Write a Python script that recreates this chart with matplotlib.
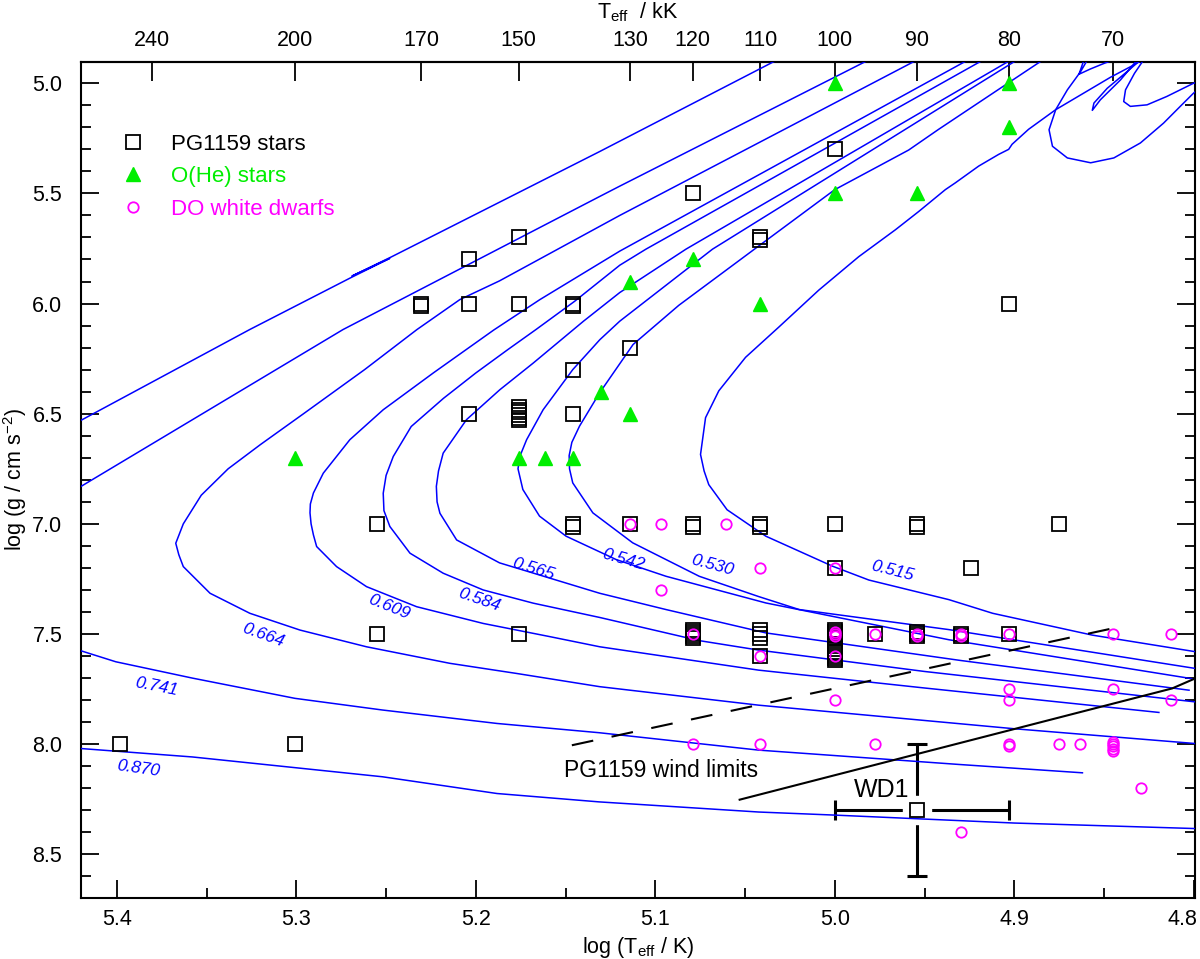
import numpy as np
import matplotlib
matplotlib.use('Agg')
import matplotlib.pyplot as plt
import matplotlib.transforms as mtransforms
from matplotlib.lines import Line2D
from matplotlib.ticker import MultipleLocator, NullLocator, FixedLocator, FuncFormatter

plt.rcParams['font.family'] = ['Liberation Sans', 'DejaVu Sans']
plt.rcParams['mathtext.fontset'] = 'custom'
plt.rcParams['mathtext.rm'] = 'Liberation Sans'
plt.rcParams['mathtext.it'] = 'Liberation Sans:italic'

# ---------------- data ----------------
# PG1159 stars (log Teff, log g)
pg_logT = [5.398, 5.301, 5.2553, 5.2553, 5.2304, 5.2304, 5.204, 5.204, 5.204,
           5.1761, 5.1761, 5.1761, 5.1761, 5.1761, 5.1761, 5.1761, 5.1761, 5.1761,
           5.1461, 5.1461, 5.1461, 5.1461, 5.1461, 5.1461,
           5.1139, 5.1139,
           5.0792, 5.0792, 5.0792, 5.0792, 5.0792, 5.0792, 5.0792, 5.0792,
           5.0414, 5.0414, 5.0414, 5.0414, 5.0414, 5.0414, 5.0414, 5.0414,
           5.0, 5.0, 5.0, 5.0, 5.0, 5.0, 5.0, 5.0, 5.0, 5.0, 5.0, 5.0, 5.0, 5.0,
           4.9777, 4.9542, 4.9542, 4.9542, 4.9542, 4.9542,
           4.9294, 4.9294, 4.9243, 4.9031, 4.9031, 4.8751]
pg_logg = [8.0, 8.0, 7.0, 7.5, 6.0, 6.012, 5.8, 6.0, 6.5,
           5.7, 6.0, 6.47, 6.482, 6.494, 6.506, 6.518, 6.53, 7.5,
           6.0, 6.012, 6.3, 6.5, 7.0, 7.012,
           6.2, 7.0,
           5.5, 7.0, 7.012, 7.48, 7.49, 7.5, 7.51, 7.52,
           5.7, 5.712, 7.0, 7.012, 7.48, 7.5, 7.52, 7.6,
           5.3, 7.0, 7.2, 7.48, 7.49, 7.5, 7.51, 7.52, 7.57, 7.58, 7.59, 7.60, 7.61, 7.62,
           7.5, 7.0, 7.012, 7.49, 7.5, 7.51,
           7.5, 7.51, 7.2, 6.0, 7.5, 7.0]

# O(He) stars
ohe_logT = [5.0, 4.9031, 4.9031, 5.0, 4.9542, 5.0792, 5.1139, 5.0414, 5.1303,
            5.1139, 5.301, 5.1761, 5.1614, 5.1461]
ohe_logg = [5.0, 5.0, 5.2, 5.5, 5.5, 5.8, 5.9, 6.0, 6.4, 6.5, 6.7, 6.7, 6.7, 6.7]

# DO white dwarfs
do_logT = [5.1139, 5.0969, 5.0607, 5.0414, 5.0, 5.0969, 5.0792, 5.0, 5.0, 5.0,
           4.9777, 4.9542, 4.9542, 4.9294, 4.9294, 4.9031, 4.8451, 4.8129,
           5.0414, 5.0, 5.0, 4.9031, 4.9031, 4.8451, 4.8129,
           5.0792, 5.0414, 4.9777, 4.9031, 4.9031, 4.8751, 4.8633,
           4.8451, 4.8451, 4.8451, 4.8451, 4.8451, 4.8293, 4.9294]
do_logg = [7.0, 7.0, 7.0, 7.2, 7.2, 7.3, 7.5, 7.49, 7.5, 7.51,
           7.5, 7.5, 7.51, 7.5, 7.51, 7.5, 7.5, 7.5,
           7.6, 7.6, 7.8, 7.75, 7.8, 7.75, 7.8,
           8.0, 8.0, 8.0, 8.0, 8.01, 8.0, 8.0,
           7.99, 8.0, 8.01, 8.02, 8.03, 8.2, 8.4]

# WD1 with error bars
wd1_logT = 4.9542
wd1_logg = 8.3
wd1_xerr = [[0.0511], [0.0458]]
wd1_yerr = 0.3

# Evolutionary tracks (log Teff, log g)
t0870_logT = [5.021, 5.034, 5.131, 5.2475, 5.2690, 5.2480, 5.2700, 5.326, 5.42, 5.47, 5.56,
              5.47, 5.4197, 5.358, 5.252, 5.1882, 5.1313, 5.0424, 5.0, 4.9, 4.7993, 4.79]
t0870_logg = [4.85, 4.902, 5.31, 5.790, 5.875, 5.795, 5.884, 6.118, 6.53, 6.75, 7.4,
              7.95, 8.02, 8.058, 8.148, 8.224, 8.262, 8.308, 8.322, 8.358, 8.383, 8.385]

t0741_logT = [4.970, 4.983, 5.1198, 5.131, 5.274, 5.42, 5.46, 5.48, 5.45, 5.4197, 5.4006,
              5.358, 5.3008, 5.252, 5.1882, 5.1313, 5.0424, 4.931, 4.862]
t0741_logg = [4.85, 4.902, 5.467, 5.514, 6.118, 6.83, 7.05, 7.3, 7.52, 7.577, 7.626,
              7.70, 7.792, 7.845, 7.906, 7.948, 8.027, 8.092, 8.13]

t0664_logT = [4.944, 4.956, 5.1198, 5.1543, 5.1868, 5.2089, 5.2328, 5.262, 5.296, 5.32,
              5.338, 5.353, 5.363, 5.3672, 5.3655, 5.363, 5.3481, 5.3259, 5.298, 5.2609,
              5.2145, 5.1773, 5.131, 5.0424, 4.9, 4.7993, 4.79]
t0664_logg = [4.85, 4.902, 5.60, 5.753, 5.897, 5.982, 6.118, 6.30, 6.5, 6.64,
              6.75, 6.87, 7.0, 7.088, 7.14, 7.194, 7.315, 7.406, 7.482, 7.558,
              7.633, 7.679, 7.739, 7.823, 7.93, 7.997, 8.0]

t0609_logT = [4.915, 4.9275, 5.1198, 5.1643, 5.19, 5.2237, 5.2516, 5.2702, 5.285, 5.2905,
              5.2922, 5.2924, 5.2918, 5.2905, 5.2887, 5.2776, 5.2609, 5.233, 5.1959,
              5.1587, 5.1309, 5.0424, 4.95, 4.8194]
t0609_logg = [4.85, 4.902, 5.762, 5.982, 6.12, 6.315, 6.482, 6.618, 6.77, 6.86,
              6.91, 6.95, 7.0, 7.05, 7.103, 7.194, 7.285, 7.376, 7.452,
              7.512, 7.558, 7.664, 7.745, 7.856]

t0584_logT = [4.906, 4.919, 5.1052, 5.1198, 5.145, 5.1665, 5.182, 5.2, 5.218, 5.236,
              5.246, 5.2500, 5.2516, 5.2512, 5.2479, 5.2367, 5.2182, 5.1959, 5.168,
              5.1309, 5.0755, 5.0424, 4.95, 4.7993, 4.79]
t0584_logg = [4.85, 4.902, 5.753, 5.826, 5.99, 6.118, 6.208, 6.315, 6.43, 6.558,
              6.694, 6.78, 6.861, 6.94, 7.012, 7.133, 7.224, 7.30, 7.36,
              7.425, 7.53, 7.573, 7.67, 7.808, 7.81]

t0565_logT = [4.891, 4.9035, 5.0829, 5.1198, 5.14, 5.168, 5.1866, 5.2052, 5.2182, 5.2208,
              5.222, 5.2216, 5.22, 5.2107, 5.1868, 5.131, 5.094, 5.0384, 4.93, 4.8026]
t0565_logg = [4.85, 4.902, 5.753, 5.95, 6.08, 6.27, 6.391, 6.527, 6.679, 6.76,
              6.83, 6.9, 6.952, 7.073, 7.177, 7.315, 7.389, 7.495, 7.62, 7.755]

t0542_logT = [4.888, 4.900, 5.0681, 5.1198, 5.1309, 5.146, 5.1625, 5.1717, 5.1755, 5.1765,
              5.1738, 5.1645, 5.1497, 5.1218, 5.094, 5.0384, 4.9364, 4.7993, 4.79]
t0542_logg = [4.85, 4.902, 5.753, 6.08, 6.164, 6.3, 6.482, 6.618, 6.694, 6.75,
              6.844, 6.965, 7.056, 7.162, 7.238, 7.359, 7.526, 7.705, 7.71]

t0530_logT = [4.873, 4.8855, 4.9421, 4.9588, 4.9755, 5.0, 5.0416, 5.0869, 5.1124,
              5.131, 5.1422, 5.1465, 5.148, 5.1478, 5.146, 5.1348, 5.1126, 5.0755,
              5.0424, 5.0198, 4.9364, 4.7993, 4.79]
t0530_logg = [4.85, 4.902, 5.209, 5.303, 5.376, 5.483, 5.734, 6.008, 6.186,
              6.405, 6.556, 6.63, 6.69, 6.75, 6.814, 6.95, 7.086, 7.238,
              7.33, 7.389, 7.48, 7.656, 7.66]

t0515_logT = [4.829, 4.8334, 4.8464, 4.863, 4.8769, 4.892, 4.9012, 4.9031, 4.9087, 4.9198,
              4.9328, 4.9384, 4.9532, 4.9662, 4.9866, 5.0089, 5.0312, 5.0497, 5.0646,
              5.072, 5.0748, 5.0728, 5.0702, 5.06, 5.0384, 5.0013, 4.981, 4.9364, 4.912,
              4.8565, 4.7993, 4.79]
t0515_logg = [4.895, 4.917, 4.973, 5.053, 5.12, 5.209, 5.277, 5.30, 5.323, 5.376,
              5.452, 5.483, 5.582, 5.665, 5.787, 5.939, 6.107, 6.244, 6.396,
              6.518, 6.685, 6.76, 6.822, 6.936, 7.056, 7.192, 7.255, 7.344, 7.406,
              7.505, 7.58, 7.59]

# thermal-pulse loops of the 0.515 track (segments separated by NaN)
loops_logT = [4.8593, 4.863, 4.8704, 4.8769, 4.8806, 4.8787, 4.8704, 4.8574, 4.8445,
              4.8297, 4.8168, 4.8075, 4.8001, 4.79, np.nan,
              4.79, 4.8001, 4.815, 4.826, 4.8353, 4.839, 4.838, 4.833, 4.828, np.nan,
              4.8316, 4.8408, 4.852, 4.8565, 4.8556, 4.8482, 4.8371, 4.8297, np.nan,
              4.8612, 4.8639, 4.8575, 4.8500, 4.845]
loops_logg = [4.895, 4.947, 5.03, 5.12, 5.211, 5.286, 5.339, 5.361, 5.339,
              5.271, 5.181, 5.105, 5.045, 4.98, np.nan,
              4.985, 5.0, 5.06, 5.098, 5.105, 5.083, 5.03, 4.955, 4.895, np.nan,
              4.895, 4.985, 5.075, 5.123, 5.09, 5.023, 4.947, 4.895, np.nan,
              4.895, 4.959, 4.935, 4.91, 4.895]

track_labels = ['0.870', '0.741', '0.664', '0.609', '0.584', '0.565', '0.542', '0.530', '0.515']
label_logT = [5.3883, 5.378, 5.3184, 5.2484, 5.1981, 5.168, 5.118, 5.068, 4.968]
label_logg = [8.109, 7.739, 7.5045, 7.377, 7.345, 7.206, 7.162, 7.188, 7.215]
label_rot = [-8, -11, -20, -22, -19, -17, -16, -15, -14]

# PG1159 wind limits
wind_dash_logT = [5.1465, 4.8393]
wind_dash_logg = [8.005, 7.464]
wind_solid_logT = [5.053, 4.812, 4.7993]
wind_solid_logg = [8.252, 7.747, 7.702]

# axis ticks
bottom_ticks = [5.4, 5.3, 5.2, 5.1, 5.0, 4.9, 4.8]
top_ticks_kK = [240, 200, 170, 150, 130, 120, 110, 100, 90, 80, 70]

# ---------------- plot ----------------
BLUE = '#0000ff'
GREEN = '#00ee00'
MAGENTA = '#ff00ff'

fig = plt.figure(figsize=(12, 9.59), dpi=100)
ax = fig.add_axes([0.0675, 0.0639, 0.9283, 0.8718])

tracks = [(t0870_logT, t0870_logg), (t0741_logT, t0741_logg), (t0664_logT, t0664_logg),
          (t0609_logT, t0609_logg), (t0584_logT, t0584_logg), (t0565_logT, t0565_logg),
          (t0542_logT, t0542_logg), (t0530_logT, t0530_logg), (t0515_logT, t0515_logg),
          (loops_logT, loops_logg)]
for tx, ty in tracks:
    ax.plot(tx, ty, color=BLUE, lw=1.1, zorder=3, solid_joinstyle='round')

for lab, lx, ly, rot in zip(track_labels, label_logT, label_logg, label_rot):
    ax.text(lx, ly, lab, color=BLUE, fontsize=12.5, style='italic', rotation=rot,
            ha='center', va='center', zorder=5)

ax.plot(wind_dash_logT, wind_dash_logg, color='black', lw=1.5, ls=(0, (10.5, 9)), zorder=3)
ax.plot(wind_solid_logT, wind_solid_logg, color='black', lw=1.5, zorder=3)
ax.text(5.097, 8.118, 'PG1159 wind limits', fontsize=16.5, ha='center', va='center')

# WD1
ax.errorbar([wd1_logT], [wd1_logg], xerr=wd1_xerr, yerr=wd1_yerr, fmt='none',
            ecolor='black', elinewidth=2.2, capsize=7, capthick=2.2, zorder=2)
ax.plot([wd1_logT], [wd1_logg], marker='s', ms=20, mfc='white', mec='white', ls='none', zorder=2.5)
ax.plot([wd1_logT], [wd1_logg], marker='s', ms=10, mfc='none', mec='black', mew=1.3,
        ls='none', zorder=4)
ax.text(4.974, 8.21, 'WD1', fontsize=18, ha='center', va='center')

ax.plot(pg_logT, pg_logg, marker='s', ms=10, mfc='none', mec='black', mew=1.3,
        ls='none', zorder=4)
ax.plot(ohe_logT, ohe_logg, marker='^', ms=10, mfc=GREEN, mec=GREEN, mew=1,
        ls='none', zorder=4)
ax.plot(do_logT, do_logg, marker='o', ms=7.5, mfc='none', mec=MAGENTA, mew=1.3,
        ls='none', zorder=4)

ax.set_xlim(5.42, 4.7993)
ax.set_ylim(8.697, 4.902)

ax.xaxis.set_major_locator(FixedLocator(bottom_ticks))
ax.xaxis.set_minor_locator(MultipleLocator(0.05))
ax.yaxis.set_major_locator(MultipleLocator(0.5))
ax.yaxis.set_minor_locator(MultipleLocator(0.1))
# the last bottom label (4.8) is drawn separately, nudged inside the figure
ax.xaxis.set_major_formatter(FuncFormatter(lambda v, p: '' if abs(v - 4.8) < 1e-6 else '%.1f' % v))
ax.yaxis.set_major_formatter(matplotlib.ticker.FormatStrFormatter('%.1f'))
ax.tick_params(which='both', direction='in', top=False, right=True, labelsize=15.5, width=1.3)
ax.tick_params(which='major', length=13)
ax.tick_params(axis='x', which='major', pad=8)
ax.tick_params(axis='y', which='major', pad=13.5)
ax.tick_params(which='minor', length=7)
for s in ax.spines.values():
    s.set_linewidth(1.5)

off = mtransforms.ScaledTranslation(-11 / 100.0, -8 / 72.0, fig.dpi_scale_trans)
ax.text(4.8, 0, '4.8', fontsize=15.5, ha='center', va='top',
        transform=ax.get_xaxis_transform() + off)

secax = ax.secondary_xaxis('top', functions=(lambda x: 10**x / 1000.0,
                                             lambda t: np.log10(np.clip(t, 1e-6, None) * 1000.0)))
secax.xaxis.set_major_locator(FixedLocator(top_ticks_kK))
secax.xaxis.set_minor_locator(NullLocator())
secax.xaxis.set_major_formatter(matplotlib.ticker.FormatStrFormatter('%d'))
secax.tick_params(direction='in', length=14, width=1.3, labelsize=15.5, pad=8)
secax.spines['top'].set_linewidth(1.5)
secax.set_xlabel(r'T$_{\rm eff}$  / kK', fontsize=15.5, labelpad=8)

ax.set_xlabel(r'log (T$_{\rm eff}$ / K)', fontsize=15.5, labelpad=4)
ax.set_ylabel(r'log (g / cm s$^{-2}$)', fontsize=15.5, labelpad=2)

handles = [Line2D([], [], marker='s', ls='none', ms=10, mfc='none', mec='black', mew=1.3),
           Line2D([], [], marker='^', ls='none', ms=10, mfc=GREEN, mec=GREEN),
           Line2D([], [], marker='o', ls='none', ms=7.5, mfc='none', mec=MAGENTA, mew=1.3)]
leg = ax.legend(handles, ['PG1159 stars', 'O(He) stars', 'DO white dwarfs'],
                loc='upper left', bbox_to_anchor=(0.037, 0.914), frameon=False,
                fontsize=16, handlelength=1.0, handletextpad=1.2, labelspacing=0.52,
                borderpad=0, borderaxespad=0, labelcolor='markeredgecolor')

fig.savefig('out.png', dpi=100)
